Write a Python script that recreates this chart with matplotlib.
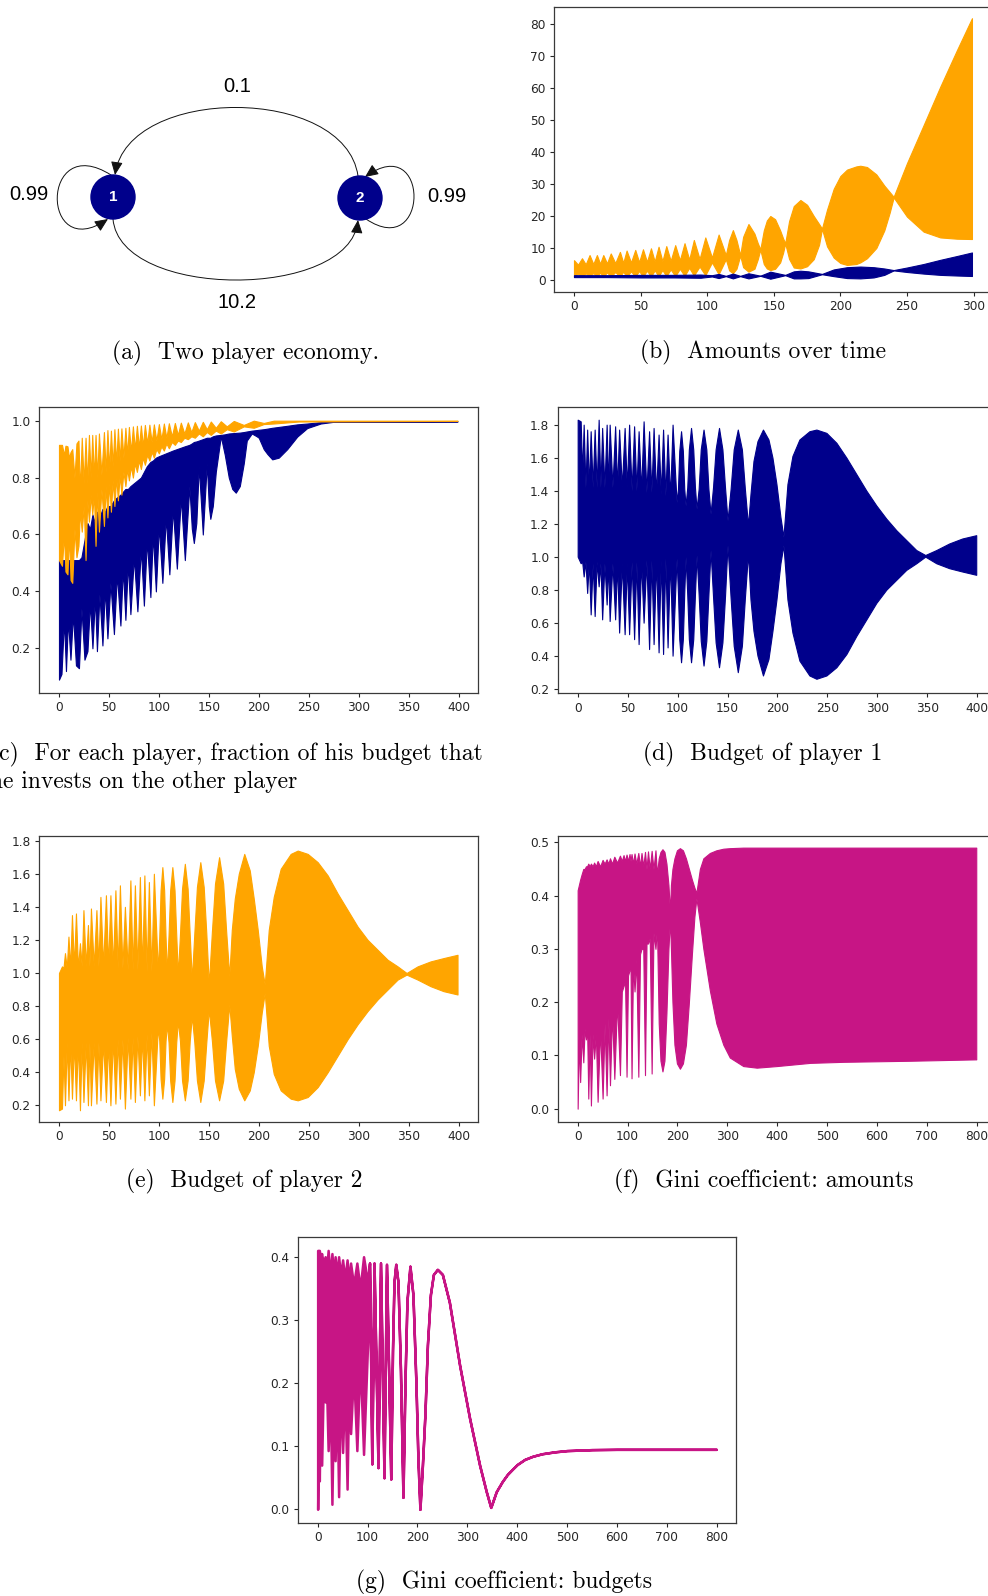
import numpy as np
import matplotlib.pyplot as plt
from matplotlib.patches import Circle, FancyArrowPatch
from matplotlib.path import Path

# ---- data -----------------------------------------------------------------
# (a) two-player economy: edge weights
w_12 = 10.2   # 1 -> 2
w_21 = 0.1    # 2 -> 1
w_11 = 0.99
w_22 = 0.99

# envelope rows (t, upper, lower) of the dense period-2 oscillations
# (b) amounts over time
amount_p2 = [
    (0, 6.2, 1.0), (3, 4.8, 2.0), (6, 6.8, 1.0), (8.8, 4.9, 2.1), (11.7, 7.8, 1.0),
    (14.5, 5.0, 2.2), (17.2, 7.8, 1.0), (19.6, 5.1, 2.3), (22, 7.8, 1.0), (24.8, 5.2, 2.4),
    (27.6, 8.3, 1.0), (31, 5.3, 2.5), (34.5, 8.8, 1.0), (37, 5.4, 2.6), (39.5, 9.2, 1.0),
    (42.8, 5.5, 2.7), (46, 9.4, 1.1), (48.9, 5.6, 2.8), (51.8, 9.6, 1.1), (54.8, 5.7, 2.9),
    (57.8, 9.9, 1.1), (60.6, 5.8, 3.0), (63.5, 10.4, 1.2), (66.4, 5.9, 3.1), (69.3, 10.6, 1.2),
    (72.6, 6.0, 3.3), (76, 10.9, 1.2), (79.5, 6.2, 3.5), (83, 11.5, 1.3), (86.5, 6.4, 3.8),
    (90, 12.5, 1.4), (94.3, 6.6, 4.2), (98.6, 13.3, 1.5), (103.6, 7.0, 5.5), (108.6, 14.2, 1.8),
    (114, 7.8, 6.5), (116.5, 12.5, 3.0), (119.3, 15.6, 2.1), (122, 12.5, 3.5), (124.8, 7.8, 7.6),
    (127, 13.5, 4.0), (131, 17.5, 2.6), (135.5, 14.5, 3.5), (138, 11.5, 6.5), (139.9, 9.6, 9.5),
    (142.5, 15.5, 5.0), (144.8, 18.6, 3.6), (147.4, 20.0, 3.1), (151, 19.0, 3.5), (154.8, 15.5, 5.5),
    (157, 13.0, 8.5), (158.6, 11.5, 11.4), (161.5, 18.4, 6.6), (165, 23.1, 3.9), (170, 25.0, 3.6),
    (175, 23.5, 4.3), (180, 20.0, 6.5), (184, 17.5, 11.0), (186.2, 16.1, 16.0), (190, 22.0, 10.5),
    (195, 28.5, 7.0), (200, 32.5, 5.3), (205, 34.5, 4.7), (212, 35.5, 5.0), (215, 35.7, 5.5),
    (220, 35.3, 6.8), (227, 33.0, 10.0), (233, 29.5, 15.5), (237, 27.5, 21.0), (240, 26.0, 25.8),
    (250, 36.5, 19.8), (262.5, 48.4, 15.1), (275, 60.4, 13.3), (287.6, 71.9, 12.9), (298.8, 81.8, 12.8),
]
amount_p1 = [
    (0, 1.5, 0.9), (25, 1.5, 0.9), (50, 1.6, 0.8), (75, 1.6, 0.8), (95, 1.7, 0.7),
    (103.6, 1.5, 1.1), (108.6, 1.9, 0.6), (114, 1.3, 1.2), (119.3, 2.0, 0.5), (124.8, 1.3, 1.2),
    (131, 2.1, 0.5), (139.9, 1.35, 1.3), (147.4, 2.6, 0.4), (158.6, 1.6, 1.5), (165, 2.7, 0.5),
    (170, 2.9, 0.5), (176, 2.7, 0.6), (186.2, 1.9, 1.8), (195, 3.3, 1.2), (205, 4.0, 0.6),
    (215, 4.2, 0.5), (225, 4.0, 0.8), (233, 3.6, 1.6), (240, 3.1, 3.0), (250, 3.9, 2.5),
    (262.5, 5.0, 2.0), (275, 6.3, 1.6), (287.6, 7.5, 1.4), (298.8, 8.6, 1.25),
]

# (c) fraction of budget invested on the other player
fraction_p1 = [
    (0, 0.51, 0.09), (2.5, 0.51, 0.11), (5, 0.51, 0.30), (7, 0.51, 0.12), (9, 0.51, 0.30),
    (11.5, 0.51, 0.16), (14, 0.51, 0.32), (17, 0.51, 0.14), (20, 0.51, 0.13), (22.5, 0.52, 0.34),
    (25.5, 0.58, 0.16), (28.5, 0.64, 0.19), (31, 0.62, 0.36), (33.5, 0.67, 0.20), (36, 0.64, 0.38),
    (38, 0.68, 0.19), (40.5, 0.66, 0.39), (43.5, 0.69, 0.21), (46, 0.68, 0.41), (48.5, 0.70, 0.235),
    (51.5, 0.70, 0.43), (55, 0.72, 0.25), (58, 0.73, 0.46), (61.5, 0.74, 0.28), (64, 0.75, 0.48),
    (66.5, 0.76, 0.30), (69, 0.76, 0.50), (71.5, 0.77, 0.32), (75, 0.78, 0.52), (78.5, 0.79, 0.33),
    (82, 0.80, 0.55), (85, 0.82, 0.35), (88, 0.84, 0.58), (91.5, 0.855, 0.38), (94, 0.86, 0.60),
    (97, 0.87, 0.40), (100, 0.875, 0.63), (103.5, 0.88, 0.43), (107, 0.885, 0.66), (110.5, 0.89, 0.46),
    (114, 0.895, 0.69), (118, 0.90, 0.48), (122, 0.905, 0.73), (126, 0.91, 0.51), (130.5, 0.915, 0.77),
    (133, 0.92, 0.62), (135, 0.925, 0.57), (137.5, 0.927, 0.64), (140, 0.93, 0.84), (144, 0.935, 0.60),
    (148, 0.94, 0.85), (150, 0.94, 0.70), (151.5, 0.94, 0.655), (154, 0.945, 0.70), (157, 0.948, 0.82),
    (162, 0.95, 0.945), (166, 0.952, 0.88), (170, 0.955, 0.80), (173.5, 0.956, 0.76), (177, 0.957, 0.747),
    (181, 0.958, 0.77), (185, 0.96, 0.85), (188, 0.962, 0.93), (193, 0.965, 0.955), (198, 0.967, 0.945),
    (200, 0.968, 0.94), (205, 0.97, 0.90), (208.6, 0.972, 0.883), (213.5, 0.975, 0.864), (220, 0.978, 0.87),
    (228.5, 0.982, 0.90), (238.5, 0.987, 0.944), (248.5, 0.99, 0.974), (262, 0.995, 0.99), (275, 0.997, 0.996),
    (399, 0.998, 0.997),
]
fraction_p2 = [
    (0, 0.915, 0.51), (3, 0.915, 0.49), (5, 0.88, 0.60), (6.5, 0.912, 0.47), (8.5, 0.91, 0.46),
    (10, 0.87, 0.60), (11.6, 0.89, 0.44), (13.3, 0.90, 0.43), (15.5, 0.80, 0.62), (17.5, 0.92, 0.52),
    (19.5, 0.93, 0.56), (21, 0.75, 0.68), (22.8, 0.94, 0.61), (24.8, 0.78, 0.70), (26.6, 0.94, 0.51),
    (28.3, 0.78, 0.72), (30, 0.95, 0.645), (31.8, 0.80, 0.74), (33.3, 0.95, 0.67), (35, 0.80, 0.74),
    (36.6, 0.95, 0.56), (38.3, 0.80, 0.75), (40, 0.955, 0.61), (42.5, 0.81, 0.76), (45, 0.96, 0.63),
    (46.8, 0.82, 0.77), (48.5, 0.967, 0.66), (50.3, 0.83, 0.78), (52, 0.965, 0.68), (53.8, 0.84, 0.79),
    (55.5, 0.97, 0.70), (57.3, 0.85, 0.80), (59, 0.972, 0.72), (60.8, 0.86, 0.81), (62.5, 0.973, 0.74),
    (64.5, 0.87, 0.82), (66.5, 0.975, 0.77), (68.3, 0.88, 0.83), (70, 0.978, 0.79), (72, 0.89, 0.84),
    (74, 0.98, 0.80), (76, 0.90, 0.85), (78, 0.982, 0.82), (80, 0.905, 0.86), (82, 0.983, 0.83),
    (84, 0.91, 0.87), (86, 0.985, 0.845), (88.3, 0.92, 0.88), (90.5, 0.986, 0.86), (92.8, 0.925, 0.89),
    (95, 0.987, 0.87), (97.5, 0.93, 0.90), (100, 0.988, 0.885), (102.5, 0.935, 0.91), (105, 0.99, 0.895),
    (107.5, 0.94, 0.92), (110, 0.991, 0.903), (113, 0.945, 0.925), (116, 0.992, 0.915), (119, 0.95, 0.93),
    (122, 0.993, 0.925), (125.5, 0.955, 0.94), (129, 0.994, 0.935), (132.5, 0.96, 0.945), (136, 0.995, 0.94),
    (140, 0.965, 0.955), (144, 0.996, 0.945), (148, 0.97, 0.96), (152, 0.997, 0.95), (157, 0.975, 0.965),
    (162, 0.998, 0.955), (168, 0.98, 0.97), (175, 0.999, 0.962), (185, 0.985, 0.98), (195, 1.0, 0.975),
    (205, 0.992, 0.988), (215, 1.0, 0.99), (240, 1.0, 0.997), (399, 1.0, 0.999),
]

# (d) budget of player 1
budget_p1 = [
    (0, 1.83, 1.00), (3, 1.82, 0.96), (4.5, 1.50, 0.97), (6, 1.80, 0.88), (7.8, 1.42, 0.97),
    (9.5, 1.77, 0.78), (11.2, 1.42, 0.97), (13, 1.76, 0.65), (15, 1.42, 0.96), (17, 1.77, 0.64),
    (19, 1.42, 0.97), (21, 1.83, 0.82), (22.8, 1.42, 0.96), (24.5, 1.78, 0.62), (26.8, 1.42, 0.96),
    (29, 1.80, 0.71), (30.5, 1.42, 0.96), (32, 1.80, 0.61), (34.8, 1.42, 0.96), (37.5, 1.79, 0.62),
    (39.5, 1.42, 0.96), (41.5, 1.77, 0.54), (44.2, 1.42, 0.96), (47, 1.78, 0.53), (49.2, 1.42, 0.96),
    (51.5, 1.80, 0.53), (54, 1.40, 0.97), (56.5, 1.79, 0.50), (58.8, 1.40, 0.97), (61, 1.76, 0.47),
    (63.5, 1.40, 0.97), (66, 1.82, 0.60), (68.8, 1.39, 0.98), (71.5, 1.76, 0.44), (73.8, 1.39, 0.98),
    (76, 1.78, 0.47), (78.5, 1.38, 0.98), (81, 1.74, 0.42), (83.2, 1.38, 0.98), (85.5, 1.77, 0.41),
    (87.8, 1.37, 0.99), (90, 1.74, 0.45), (92.5, 1.36, 0.99), (95, 1.80, 0.40), (99, 1.33, 0.99),
    (100.4, 1.41, 0.78), (101.7, 1.64, 0.50), (103.5, 1.76, 0.36), (105.3, 1.64, 0.50), (106.7, 1.41, 0.78),
    (108, 1.31, 1.00), (109.7, 1.42, 0.77), (111.3, 1.65, 0.50), (113.5, 1.78, 0.36), (115.7, 1.65, 0.50),
    (117.4, 1.42, 0.77), (119, 1.29, 1.01), (121.1, 1.41, 0.77), (123.2, 1.65, 0.49), (126, 1.77, 0.34),
    (128.8, 1.65, 0.49), (130.9, 1.41, 0.77), (133, 1.26, 1.04), (135.5, 1.42, 0.76), (138.1, 1.65, 0.48),
    (141.5, 1.78, 0.33), (144.9, 1.65, 0.48), (147.5, 1.42, 0.76), (150, 1.22, 1.07), (153.1, 1.41, 0.75),
    (156.2, 1.65, 0.46), (160.3, 1.77, 0.30), (164.4, 1.65, 0.46), (167.4, 1.41, 0.75), (170.5, 1.19, 1.02),
    (173, 1.38, 0.74), (176, 1.58, 0.55), (180, 1.70, 0.40), (185.5, 1.77, 0.28), (191, 1.71, 0.38),
    (195, 1.60, 0.55), (199, 1.44, 0.74), (203, 1.24, 0.96), (206, 1.12, 1.07), (210, 1.44, 0.74),
    (215, 1.61, 0.54), (222, 1.71, 0.37), (232, 1.76, 0.28), (239, 1.77, 0.26), (249, 1.75, 0.28),
    (259, 1.69, 0.33), (269, 1.60, 0.41), (279, 1.50, 0.52), (289, 1.40, 0.62), (299, 1.31, 0.72),
    (309, 1.23, 0.80), (319, 1.16, 0.86), (329, 1.10, 0.92), (339, 1.04, 0.96), (348, 1.01, 1.00),
    (359, 1.04, 0.96), (372, 1.08, 0.93), (385, 1.11, 0.91), (399, 1.13, 0.89),
]
# (e) budget of player 2
budget_p2 = [
    (0, 1.00, 0.17), (3, 1.04, 0.18), (4.5, 1.03, 0.50), (6, 1.12, 0.20), (7.8, 1.03, 0.58),
    (9.5, 1.22, 0.23), (11.2, 1.03, 0.58), (13, 1.35, 0.24), (15, 1.04, 0.58), (17, 1.36, 0.23),
    (19, 1.03, 0.58), (21, 1.18, 0.17), (22.8, 1.04, 0.58), (24.5, 1.38, 0.22), (26.8, 1.04, 0.58),
    (29, 1.29, 0.20), (30.5, 1.04, 0.58), (32, 1.39, 0.20), (34.8, 1.04, 0.58), (37.5, 1.38, 0.21),
    (39.5, 1.04, 0.58), (41.5, 1.46, 0.23), (44.2, 1.04, 0.58), (47, 1.47, 0.22), (49.2, 1.04, 0.58),
    (51.5, 1.47, 0.20), (54, 1.03, 0.60), (56.5, 1.50, 0.21), (58.8, 1.03, 0.60), (61, 1.53, 0.24),
    (63.5, 1.03, 0.60), (66, 1.40, 0.18), (68.8, 1.02, 0.61), (71.5, 1.56, 0.24), (73.8, 1.02, 0.61),
    (76, 1.53, 0.22), (78.5, 1.02, 0.62), (81, 1.58, 0.26), (83.2, 1.02, 0.62), (85.5, 1.59, 0.23),
    (87.8, 1.01, 0.63), (90, 1.55, 0.26), (92.5, 1.01, 0.64), (95, 1.60, 0.20), (99, 1.01, 0.67),
    (100.4, 1.22, 0.59), (101.7, 1.50, 0.36), (103.5, 1.64, 0.24), (105.3, 1.50, 0.36), (106.7, 1.22, 0.59),
    (108, 1.00, 0.69), (109.7, 1.23, 0.58), (111.3, 1.50, 0.35), (113.5, 1.64, 0.22), (115.7, 1.50, 0.35),
    (117.4, 1.23, 0.58), (119, 0.99, 0.71), (121.1, 1.23, 0.59), (123.2, 1.51, 0.35), (126, 1.66, 0.23),
    (128.8, 1.51, 0.35), (130.9, 1.23, 0.59), (133, 0.96, 0.74), (135.5, 1.24, 0.58), (138.1, 1.52, 0.35),
    (141.5, 1.67, 0.22), (144.9, 1.52, 0.35), (147.5, 1.24, 0.58), (150, 0.93, 0.78), (153.1, 1.25, 0.59),
    (156.2, 1.54, 0.35), (160.3, 1.70, 0.23), (164.4, 1.54, 0.35), (167.4, 1.25, 0.59), (170.5, 0.98, 0.81),
    (173, 1.26, 0.62), (176, 1.45, 0.42), (180, 1.60, 0.30), (185.5, 1.72, 0.23), (191, 1.62, 0.29),
    (195, 1.45, 0.40), (199, 1.26, 0.56), (203, 1.04, 0.76), (206, 0.93, 0.88), (210, 1.26, 0.56),
    (215, 1.46, 0.39), (222, 1.63, 0.29), (232, 1.72, 0.24), (239, 1.74, 0.23), (249, 1.72, 0.25),
    (259, 1.67, 0.31), (269, 1.59, 0.40), (279, 1.48, 0.50), (289, 1.38, 0.60), (299, 1.28, 0.69),
    (309, 1.20, 0.77), (319, 1.14, 0.84), (329, 1.08, 0.90), (339, 1.04, 0.96), (348, 1.00, 0.99),
    (359, 1.04, 0.96), (372, 1.07, 0.92), (385, 1.09, 0.89), (399, 1.11, 0.87),
]

# (f) Gini coefficient of amounts
gini_amounts = [
    (0, 0.41, 0.0), (2.5, 0.42, 0.13), (5, 0.43, 0.05), (8, 0.44, 0.14), (11.3, 0.45, 0.087),
    (14, 0.45, 0.15), (16.6, 0.455, 0.13), (19, 0.455, 0.15), (21.3, 0.46, 0.019), (24, 0.455, 0.14),
    (26.6, 0.46, 0.006), (30, 0.455, 0.14), (33, 0.462, 0.094), (36.5, 0.455, 0.14), (40, 0.465, 0.013),
    (45, 0.455, 0.15), (50, 0.467, 0.019), (54, 0.46, 0.16), (58, 0.468, 0.025), (61.5, 0.46, 0.17),
    (64.8, 0.47, 0.044), (69, 0.46, 0.18), (73.5, 0.473, 0.056), (79, 0.462, 0.20), (84.8, 0.475, 0.063),
    (88.5, 0.465, 0.22), (92, 0.476, 0.23), (95, 0.465, 0.24), (98, 0.477, 0.06), (101, 0.465, 0.25),
    (104, 0.478, 0.26), (106, 0.465, 0.26), (108, 0.478, 0.057), (111, 0.46, 0.27), (114, 0.479, 0.22),
    (117.5, 0.46, 0.28), (121.6, 0.48, 0.06), (125, 0.455, 0.29), (128, 0.48, 0.30), (131.5, 0.455, 0.30),
    (135, 0.482, 0.063), (138, 0.45, 0.31), (141, 0.483, 0.31), (144.5, 0.45, 0.32), (148.3, 0.484, 0.066),
    (152, 0.45, 0.33), (156, 0.485, 0.30), (159, 0.44, 0.34), (162.5, 0.47, 0.16), (166, 0.482, 0.09),
    (170, 0.487, 0.07), (174, 0.482, 0.09), (178, 0.46, 0.18), (182, 0.42, 0.30), (185, 0.37, 0.355),
    (187, 0.42, 0.30), (190, 0.45, 0.20), (194, 0.47, 0.12), (199, 0.485, 0.085), (205, 0.489, 0.075),
    (211, 0.485, 0.085), (217, 0.47, 0.12), (223, 0.45, 0.20), (229, 0.43, 0.29), (234, 0.415, 0.36),
    (238, 0.405, 0.395), (245, 0.45, 0.35), (252, 0.47, 0.30), (265, 0.48, 0.222), (278, 0.485, 0.16),
    (292, 0.488, 0.12), (305, 0.489, 0.096), (332, 0.49, 0.08), (359, 0.49, 0.077), (399, 0.49, 0.08),
    (466, 0.49, 0.086), (533, 0.49, 0.088), (667, 0.49, 0.09), (799, 0.49, 0.0926),
]

# (g) Gini coefficient of budgets
gini_budgets = [
    (0, 0.41, 0.0), (2, 0.41, 0.17), (3.3, 0.41, 0.045), (5.5, 0.40, 0.18), (8, 0.405, 0.07),
    (11, 0.39, 0.19), (15, 0.40, 0.17), (18, 0.38, 0.19), (21, 0.41, 0.093), (25, 0.37, 0.19),
    (28.6, 0.405, 0.008), (32, 0.37, 0.19), (35, 0.40, 0.077), (38.5, 0.37, 0.19), (42, 0.40, 0.02),
    (46, 0.37, 0.20), (50, 0.395, 0.09), (54.5, 0.365, 0.20), (59, 0.395, 0.032), (62.5, 0.36, 0.21),
    (66, 0.39, 0.12), (72, 0.355, 0.22), (78.6, 0.39, 0.093), (85, 0.35, 0.24), (92, 0.40, 0.087),
    (100, 0.36, 0.26), (104, 0.39, 0.39), (108.6, 0.072, 0.072), (113, 0.39, 0.39), (121, 0.066, 0.066),
    (126, 0.39, 0.39), (133, 0.05, 0.05), (138, 0.388, 0.388), (146.6, 0.048, 0.048), (150, 0.25, 0.25),
    (153, 0.36, 0.36), (156.6, 0.388, 0.388), (161, 0.36, 0.36), (166, 0.22, 0.22), (171, 0.019, 0.019),
    (175, 0.20, 0.20), (179, 0.33, 0.33), (185, 0.385, 0.385), (191, 0.34, 0.34), (197, 0.20, 0.20),
    (201, 0.08, 0.08), (205, 0.0, 0.0), (210, 0.07, 0.07), (215, 0.15, 0.15), (220, 0.26, 0.26),
    (226, 0.34, 0.34), (232, 0.372, 0.372), (240, 0.38, 0.38), (250, 0.372, 0.372), (264, 0.328, 0.328),
    (284.6, 0.228, 0.228), (304.6, 0.144, 0.144), (324.6, 0.07, 0.07), (338, 0.028, 0.028),
    (347, 0.003, 0.003), (358, 0.028, 0.028), (370, 0.044, 0.044), (380, 0.055, 0.055),
    (391, 0.064, 0.064), (400, 0.071, 0.071), (415, 0.079, 0.079), (431, 0.084, 0.084),
    (450, 0.088, 0.088), (475, 0.091, 0.091), (500, 0.093, 0.093), (550, 0.0945, 0.0945),
    (600, 0.095, 0.095), (799, 0.095, 0.095),
]

captions = {
    'a': '(a)  Two player economy.',
    'b': '(b)  Amounts over time',
    'c1': '(c)  For each player, fraction of his budget that',
    'c2': 'he invests on the other player',
    'd': '(d)  Budget of player 1',
    'e': '(e)  Budget of player 2',
    'f': '(f)  Gini coefficient: amounts',
    'g': '(g)  Gini coefficient: budgets',
}

# ---- drawing ---------------------------------------------------------------
W, H = 988, 1596
ORANGE = '#FFA500'
NAVY = '#00008B'
MAGENTA = '#C71585'
TXT = '#262626'

fig = plt.figure(figsize=(W / 100, H / 100), dpi=100, facecolor='white')


def add_ax(left, top, width, height):
    # pixel box (top-left origin) -> figure fraction
    return fig.add_axes([left / W, 1 - (top + height) / H, width / W, height / H])


def band(ax, rows, color, lw=0.8):
    t, hi, lo = (np.array(c, dtype=float) for c in zip(*rows))
    ax.fill_between(t, lo, hi, facecolor=color, edgecolor=color, linewidth=lw)


def style(ax, xlim, ylim, xticks, yticks):
    ax.set_xlim(*xlim)
    ax.set_ylim(*ylim)
    ax.set_xticks(xticks)
    ax.set_yticks(yticks)
    ax.tick_params(labelsize=8.7, colors=TXT, length=3, width=0.8, pad=3)
    for s in ax.spines.values():
        s.set_color('#3a3a3a')
        s.set_linewidth(0.9)


def caption(x, y, s, ha='center'):
    fig.text(x / W, 1 - y / H, s, ha=ha, va='baseline', family='cmr10',
             fontsize=17, color='black')


# (a) network
ax = add_ax(0, 0, 500, 330)
ax.set_xlim(0, 500)
ax.set_ylim(330, 0)
ax.axis('off')

n1, n2, r = (113, 197), (360, 198), 22
M, C = Path.MOVETO, Path.CURVE4
edges = [
    [(358, 176), (345, 85), (128, 85), (115, 175)],     # 2 -> 1
    [(113, 219), (120, 300), (350, 300), (358, 220)],   # 1 -> 2
    [(111, 175), (40, 130), (40, 265), (108, 219)],     # 1 -> 1
    [(366, 219), (430, 262), (430, 130), (365, 177)],   # 2 -> 2
]
for verts in edges:
    p = FancyArrowPatch(path=Path(verts, [M, C, C, C]),
                        arrowstyle='-|>,head_length=0.9,head_width=0.4',
                        mutation_scale=9, lw=0.7, color='#111111')
    ax.add_patch(p)
for (cx, cy), lab in [(n1, '1'), (n2, '2')]:
    ax.add_patch(Circle((cx, cy), r, color=NAVY, zorder=3))
    ax.text(cx, cy, lab, ha='center', va='center', color='white', fontsize=11,
            fontweight='bold', family='Liberation Sans', zorder=4)
lab_kw = dict(ha='center', va='center', fontsize=14.5, family='Liberation Sans')
ax.text(237, 86, f'{w_21}', **lab_kw)
ax.text(237, 303, f'{w_12}', **lab_kw)
ax.text(29, 195, f'{w_11}', **lab_kw)
ax.text(447, 196, f'{w_22}', **lab_kw)

# (b)
ax = add_ax(554, 7, 438.2, 285)
band(ax, amount_p2, ORANGE)
band(ax, amount_p1, NAVY)
style(ax, (-15, 314), (-3.75, 85.3), range(0, 301, 50), range(0, 81, 10))

# (c)
ax = add_ax(39, 407.3, 438.5, 285.4)
band(ax, fraction_p1, NAVY)
band(ax, fraction_p2, ORANGE)
style(ax, (-20, 419), (0.044, 1.047), range(0, 401, 50), [0.2, 0.4, 0.6, 0.8, 1.0])

# (d)
ax = add_ax(557.7, 407.3, 438.5, 286)
band(ax, budget_p1, NAVY)
style(ax, (-20, 419), (0.172, 1.905), range(0, 401, 50),
      [0.2, 0.4, 0.6, 0.8, 1.0, 1.2, 1.4, 1.6, 1.8])

# (e)
ax = add_ax(39, 835.7, 438.5, 286.3)
band(ax, budget_p2, ORANGE)
style(ax, (-20, 419), (0.099, 1.83), range(0, 401, 50),
      [0.2, 0.4, 0.6, 0.8, 1.0, 1.2, 1.4, 1.6, 1.8])

# (f)
ax = add_ax(557.7, 835.7, 438.5, 286)
band(ax, gini_amounts, MAGENTA)
style(ax, (-40, 839), (-0.0244, 0.5124), range(0, 801, 100),
      [0.0, 0.1, 0.2, 0.3, 0.4, 0.5])

# (g)
ax = add_ax(297.7, 1236.7, 438.5, 286)
band(ax, gini_budgets, MAGENTA, lw=1.8)
style(ax, (-40, 839), (-0.0212, 0.4317), range(0, 801, 100),
      [0.0, 0.1, 0.2, 0.3, 0.4])

caption(246, 359, captions['a'])
caption(763, 358, captions['b'])
caption(-10, 760, captions['c1'], ha='left')
caption(-10, 788, captions['c2'], ha='left')
caption(763, 760, captions['d'])
caption(244, 1187, captions['e'])
caption(764, 1187, captions['f'])
caption(504, 1588, captions['g'])

fig.savefig('out.png', dpi=100, facecolor='white')
